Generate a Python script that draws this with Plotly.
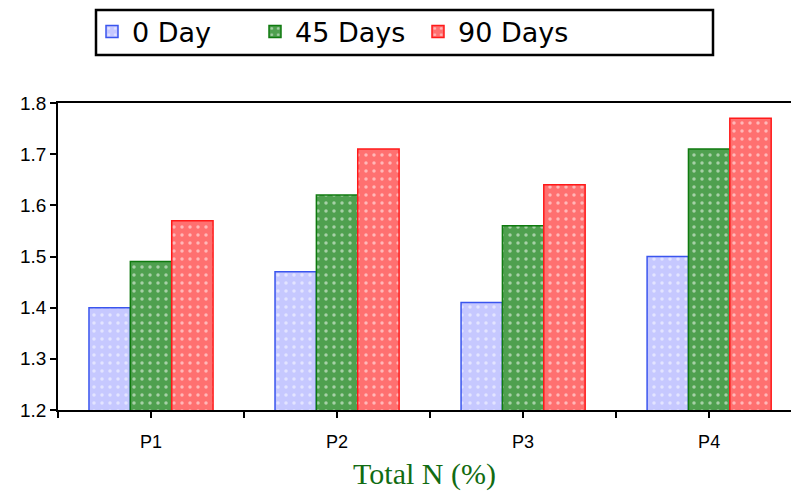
import plotly.graph_objects as go

categories = ["P1", "P2", "P3", "P4"]
day0 = [1.40, 1.47, 1.41, 1.50]
day45 = [1.49, 1.62, 1.56, 1.71]
day90 = [1.57, 1.71, 1.64, 1.77]
series_names = ["0 Day", "45 Days", "90 Days"]
y_ticks = [1.2, 1.3, 1.4, 1.5, 1.6, 1.7, 1.8]

styles = [
    dict(bg="#c6c8ff", line="#3a55ee"),
    dict(bg="#4fa04f", line="#0f7a0f"),
    dict(bg="#ff7070", line="#ff1a1a"),
]

W, H = 791, 501
L, T, B = 58, 103, 91
plot_w, plot_h = W - L, H - T - B

x_pos = list(range(len(categories)))
x_bounds = [i - 0.5 for i in range(len(categories) + 1)]


def px_to_paper_x(px):
    return (px - L) / plot_w


def px_to_paper_y(py):
    return (H - B - py) / plot_h


fig = go.Figure()
for name, vals, st in zip(series_names, [day0, day45, day90], styles):
    fig.add_trace(go.Bar(
        x=x_pos, y=vals, name=name,
        marker=dict(
            color=st["bg"],
            line=dict(color=st["line"], width=1.5),
            pattern=dict(shape=".", fgcolor="white", bgcolor=st["bg"],
                         size=8, solidity=0.15, fillmode="overlay"),
        ),
    ))

fig.update_layout(
    width=W, height=H,
    margin=dict(l=L, r=0, t=T, b=B, autoexpand=False),
    paper_bgcolor="white", plot_bgcolor="white",
    barmode="group", bargap=0.333, bargroupgap=0,
    font=dict(family="Liberation Sans, Arial", size=18, color="black"),
    showlegend=True,
    legend=dict(
        orientation="h", xref="container", yref="container",
        x=92 / W, xanchor="left", y=1 - 32 / H, yanchor="middle",
        borderwidth=0, bgcolor="rgba(0,0,0,0)",
        font=dict(family="DejaVu Sans", size=27, color="black"),
        itemwidth=30, tracegroupgap=0,
        entrywidth=118, entrywidthmode="pixels",
    ),
    xaxis=dict(
        type="linear",
        range=[-0.5, 3.44],
        showline=True, linecolor="black", linewidth=1.8, mirror=True,
        ticks="outside", ticklen=6, tickcolor="black", tickwidth=1.5,
        tickvals=x_pos,
        ticktext=categories,
        tickfont=dict(size=18, color="black"),
        ticklabelstandoff=8,
        minor=dict(tickvals=x_bounds, ticks="outside", ticklen=6,
                   tickcolor="black", tickwidth=1.5, showgrid=False),
        showgrid=False, zeroline=False, automargin=False,
        title=dict(text="Total N (%)",
                   font=dict(family="Liberation Serif, Times New Roman", size=30, color="#126c12"),
                   standoff=12),
    ),
    yaxis=dict(
        range=[1.2, 1.8], tickvals=y_ticks,
        tickformat=".1f",
        showline=True, linecolor="black", linewidth=1.8, mirror=True,
        ticks="outside", ticklen=6, tickcolor="black", tickwidth=1.5,
        showgrid=False, zeroline=False, automargin=False,
        tickfont=dict(size=19),
    ),
    shapes=[dict(
        type="rect", xref="paper", yref="paper",
        x0=px_to_paper_x(96), x1=px_to_paper_x(713),
        y0=px_to_paper_y(55), y1=px_to_paper_y(10),
        line=dict(color="black", width=2.5), fillcolor="rgba(0,0,0,0)",
        layer="below",
    )],
)

fig.write_html("out.html", config={"displayModeBar": False},
               post_script="document.body.style.margin='0';")
